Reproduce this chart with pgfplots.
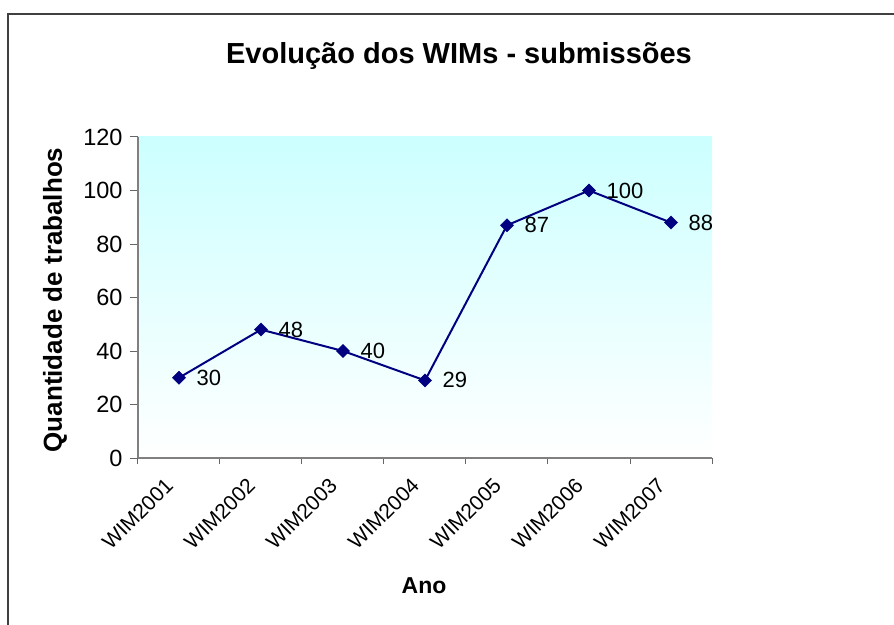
\documentclass[border=0pt]{standalone}
\usepackage{pgfplots}
\pgfplotsset{compat=1.18}
\usepackage{fontspec}
\setmainfont{Liberation Sans}
\definecolor{navyline}{HTML}{000080}
\definecolor{axgray}{HTML}{808080}
\definecolor{bgtop}{HTML}{CCFFFF}
\begin{document}
\begin{tikzpicture}[x=1pt,y=1pt]
\useasboundingbox (-138,-166) rectangle (756,458);
\draw[line width=1.3pt, draw=black!75] (-130,-170) -- (-130,444) -- (760,444);
\begin{axis}[
  at={(0,0)}, anchor=south west,
  scale only axis, width=574pt, height=321pt,
  xmin=-0.5, xmax=6.5, ymin=0, ymax=120,
  ytick={0,20,...,120},
  xtick={0,...,6},
  xticklabels={WIM2001,WIM2002,WIM2003,WIM2004,WIM2005,WIM2006,WIM2007},
  minor xtick={-0.5,0.5,...,6.5},
  major x tick style={draw=none},
  tick align=outside, major tick length=8pt, minor tick length=6pt,
  axis x line*=bottom, axis y line*=left,
  axis line style={draw=axgray, line width=1.5pt, -},
  tick style={draw=black!60, line width=1pt},
  axis background/.style={shade, top color=bgtop, bottom color=white},
  /pgf/number format/assume math mode=true,
  yticklabel style={font=\fontsize{23.5}{27}\selectfont, xshift=-4pt},
  xticklabel style={font=\fontsize{21}{25}\selectfont, xshift=-15pt, yshift=-6pt, rotate=45, anchor=north east},
  clip=false,
  nodes near coords,
  every node near coord/.append style={anchor=west, xshift=14pt, text=black, font=\fontsize{22}{26}\selectfont},
]
\addplot[color=navyline, line width=2pt, mark=square*, mark size=4.6pt, mark options={rotate=45, fill=navyline, draw=navyline, line width=0.5pt}]
  coordinates {(0,30) (1,48) (2,40) (3,29) (4,87) (5,100) (6,88)};
\end{axis}
\node[anchor=base, font=\bfseries\fontsize{29}{33}\selectfont] at (321,394) {Evolução dos WIMs - submissões};
\node[anchor=base, rotate=90, font=\bfseries\fontsize{26}{30}\selectfont] at (-76,158) {Quantidade de trabalhos};
\node[anchor=base, font=\bfseries\fontsize{23}{27}\selectfont] at (286,-135) {Ano};
\end{tikzpicture}
\end{document}
